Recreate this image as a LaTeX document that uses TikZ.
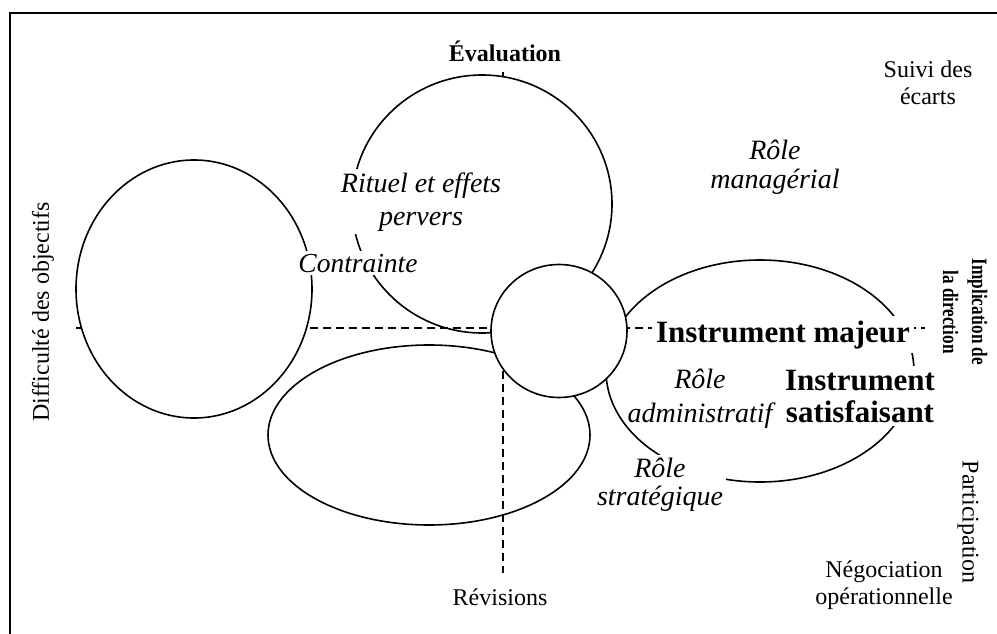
\documentclass[tikz,border=0pt]{standalone}
\usepackage{fontspec}
\setmainfont{Liberation Serif}
\newfontfamily\narrowserif[FakeStretch=0.78]{Liberation Serif}
\usetikzlibrary{shapes.geometric}

\begin{document}
\begin{tikzpicture}[x=1pt,y=-1pt,
    blob/.style={ellipse,draw,line width=1.6pt,inner sep=0pt},
    lbl/.style={align=center,inner sep=3pt},
    mask/.style={lbl,fill=white},
    axisline/.style={line width=1.6pt,dash pattern=on 8pt off 5pt}]
    \useasboundingbox (0,0) rectangle (997,634);
    \draw[line width=2pt] (10,634) -- (10,13) -- (997,13);
    % axes
    \coordinate (vtop) at (503,72);
    \coordinate (vbot) at (503,573);
    \coordinate (hleft) at (76,328);
    \coordinate (hright) at (925,328);
    \draw[axisline] (vtop) -- (vbot);
    \node[blob,fill=white,minimum width=260pt,minimum height=258pt] (eval) at (482,204) {};
    \draw[axisline] (hleft) -- (hright);
    \node[blob,fill=white,minimum width=236pt,minimum height=258pt] (diff) at (194,289) {};
    \node[blob,minimum width=322pt,minimum height=180pt] (rev) at (429,435) {};
    \node[blob,minimum width=308pt,minimum height=222pt] (instr) at (760,371) {};
    \node[blob,fill=white,minimum width=136pt,minimum height=133pt] (core) at (559,331) {};
    % labels (base = last line)
    \node[lbl,anchor=base,font=\bfseries\fontsize{24}{28}\selectfont] (evallbl) at (505,62) {Évaluation};
    \node[mask,anchor=base,font=\itshape\fontsize{28}{33}\selectfont] (rituel) at (421,225) {Rituel et effets\\pervers};
    \node[mask,anchor=base,font=\itshape\fontsize{27.5}{33}\selectfont] (contr) at (358,272) {Contrainte};
    \node[lbl,anchor=base,font=\itshape\fontsize{28}{29}\selectfont] (manag) at (775,188) {Rôle\\managérial};
    \node[lbl,anchor=base,font=\fontsize{24}{28}\selectfont] (suivi) at (928,105) {Suivi des\\écarts};
    \node[lbl,rotate=90,font=\fontsize{24}{28}\selectfont] (diffl) at (43,312) {Difficulté des objectifs};
    \node[mask,anchor=base,inner sep=4pt,font=\bfseries\fontsize{31}{32}\selectfont] (majeur) at (783,342) {Instrument majeur};
    \node[mask,anchor=base,inner sep=4pt,font=\bfseries\fontsize{31}{32}\selectfont] (satisf) at (860,422) {Instrument\\satisfaisant};
    \node[lbl,anchor=base,font=\itshape\fontsize{28}{34}\selectfont] (admin) at (700,422) {Rôle\\administratif};
    \node[mask,anchor=base,font=\itshape\fontsize{28}{28}\selectfont] (strat) at (660,505) {Rôle\\stratégique};
    \node[lbl,anchor=base,rotate=-90,font=\narrowserif\bfseries\fontsize{22}{29}\selectfont] (implic) at (943,312) {Implication de\\la direction};
    \node[lbl,rotate=-90,font=\fontsize{24}{28}\selectfont] (partic) at (968,522) {Participation};
    \node[lbl,anchor=base,font=\fontsize{24}{27}\selectfont] (negoc) at (884,604) {Négociation\\opérationnelle};
    \node[lbl,anchor=base,font=\fontsize{24}{28}\selectfont] (revis) at (500,605) {Révisions};
\end{tikzpicture}
\end{document}
